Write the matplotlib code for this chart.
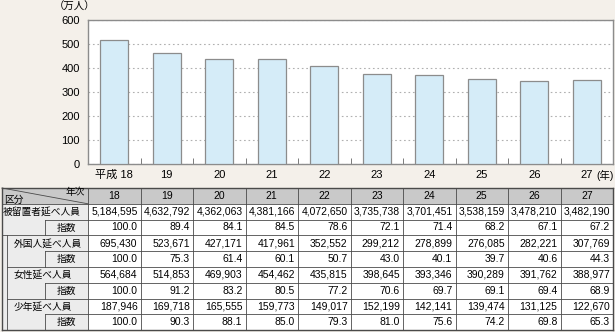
import matplotlib.pyplot as plt
import numpy as np

plt.rcParams['font.family'] = ['Liberation Sans', 'Noto Sans CJK JP']

years = ['18', '19', '20', '21', '22', '23', '24', '25', '26', '27']
detained = [5184595, 4632792, 4362063, 4381166, 4072650, 3735738, 3701451, 3538159, 3478210, 3482190]
detained_idx = [100.0, 89.4, 84.1, 84.5, 78.6, 72.1, 71.4, 68.2, 67.1, 67.2]
foreign = [695430, 523671, 427171, 417961, 352552, 299212, 278899, 276085, 282221, 307769]
foreign_idx = [100.0, 75.3, 61.4, 60.1, 50.7, 43.0, 40.1, 39.7, 40.6, 44.3]
female = [564684, 514853, 469903, 454462, 435815, 398645, 393346, 390289, 391762, 388977]
female_idx = [100.0, 91.2, 83.2, 80.5, 77.2, 70.6, 69.7, 69.1, 69.4, 68.9]
juvenile = [187946, 169718, 165555, 159773, 149017, 152199, 142141, 139474, 131125, 122670]
juvenile_idx = [100.0, 90.3, 88.1, 85.0, 79.3, 81.0, 75.6, 74.2, 69.8, 65.3]

row_names = ['被留置者延べ人員', '外国人延べ人員', '女性延べ人員', '少年延べ人員']
row_data = [(detained, detained_idx), (foreign, foreign_idx),
            (female, female_idx), (juvenile, juvenile_idx)]

bg = '#f4f0ea'
fig = plt.figure(figsize=(6.15, 3.32), dpi=100, facecolor=bg)
W, H = 615, 332

# bar chart (万人)
ax = fig.add_axes([88 / W, 1 - 164 / H, 525 / W, 144 / H])
x = np.arange(len(years))
ax.bar(x, np.array(detained) / 10000, width=0.54, color='#d5ecf8',
       edgecolor='#8c8c8c', linewidth=0.9, zorder=3)
ax.set_xlim(-0.5, len(years) - 0.5)
ax.set_ylim(0, 600)
ax.set_yticks(range(0, 601, 100))
ax.yaxis.grid(True, linestyle=(0, (1.5, 2.5)), color='#b0b0b0', linewidth=0.8, zorder=0)
ax.set_xticks(x)
labels = ['平成 18'] + years[1:]
ax.set_xticklabels(labels, fontsize=8)
ax.set_xticks(np.arange(0.5, len(years) - 1, 1), minor=True)
ax.tick_params(axis='x', which='major', length=0, pad=4)
ax.tick_params(axis='x', which='minor', length=4, direction='in', color='#666666')
ax.tick_params(axis='y', length=0, labelsize=8, pad=6)
for s in ax.spines.values():
    s.set_color('#8c8c8c')
    s.set_linewidth(1.0)
fig.text(75 / W, 1 - 7 / H, '（万人）', fontsize=7.5, ha='center', va='center')
fig.text(596 / W, 1 - 175 / H, '(年)', fontsize=7.5, ha='left', va='center')

# table below the chart
tb = fig.add_axes([0, 0, 1, 1], zorder=-1)
tb.set_xlim(0, W)
tb.set_ylim(H, 0)
tb.axis('off')

left, c1, sub, indent = 2, 88, 45, 7
colw = 52.5
top, rh = 188, 15.8
right = c1 + colw * len(years)
rows_y = [top + rh * i for i in range(10)]
bottom = rows_y[-1]
lc = '#4a4a4a'
lw = 0.6

tb.add_patch(plt.Rectangle((left, top), right - left, rh, facecolor='#c9c9c9', edgecolor='none'))
tb.add_patch(plt.Rectangle((left, top + rh), c1 - left, bottom - top - rh, facecolor='#ececec', edgecolor='none'))
tb.add_patch(plt.Rectangle((c1, top + rh), right - c1, bottom - top - rh, facecolor='white', edgecolor='none'))

# horizontal rules
for i, y in enumerate(rows_y):
    tb.plot([c1, right], [y, y], color=lc, lw=lw)
    if i in (0, 1, 3, 9):
        tb.plot([left, c1], [y, y], color=lc, lw=lw)
    elif i in (5, 7):
        tb.plot([indent, c1], [y, y], color=lc, lw=lw)
    else:
        tb.plot([sub, c1], [y, y], color=lc, lw=lw)

# vertical rules
for j in range(len(years) + 1):
    xx = c1 + colw * j
    tb.plot([xx, xx], [top, bottom], color=lc, lw=lw)
tb.plot([left, left], [top, bottom], color=lc, lw=1.0)
tb.plot([right, right], [top, bottom], color=lc, lw=1.0)
tb.plot([left, right], [top, top], color=lc, lw=1.0)
tb.plot([left, right], [bottom, bottom], color=lc, lw=1.0)
tb.plot([indent, indent], [rows_y[3], bottom], color=lc, lw=lw)
for k in range(4):
    tb.plot([sub, sub], [rows_y[2 + 2 * k], rows_y[3 + 2 * k]], color=lc, lw=lw)

# header
tb.plot([left, c1], [top, top + rh], color=lc, lw=lw)
tb.text(left + 2, top + rh - 4, '区分', fontsize=7, ha='left', va='center')
tb.text(c1 - 3, top + 4.5, '年次', fontsize=7, ha='right', va='center')
for j, yr in enumerate(years):
    tb.text(c1 + colw * (j + 0.5), top + rh / 2, yr, fontsize=7.5, ha='center', va='center')

fs = 7.5
for k, (name, (vals, idx)) in enumerate(zip(row_names, row_data)):
    ya = rows_y[1 + 2 * k] + rh / 2
    yb = rows_y[2 + 2 * k] + rh / 2
    tb.text(left + 1 if k == 0 else 14, ya, name, fontsize=7, ha='left', va='center')
    tb.text((sub + c1) / 2, yb, '指数', fontsize=7, ha='center', va='center')
    for j in range(len(years)):
        xr = c1 + colw * (j + 1) - 3
        tb.text(xr, ya, f'{vals[j]:,}', fontsize=fs, ha='right', va='center')
        tb.text(xr, yb, f'{idx[j]:.1f}', fontsize=fs, ha='right', va='center')

fig.savefig('out.png', dpi=100, facecolor=bg)
